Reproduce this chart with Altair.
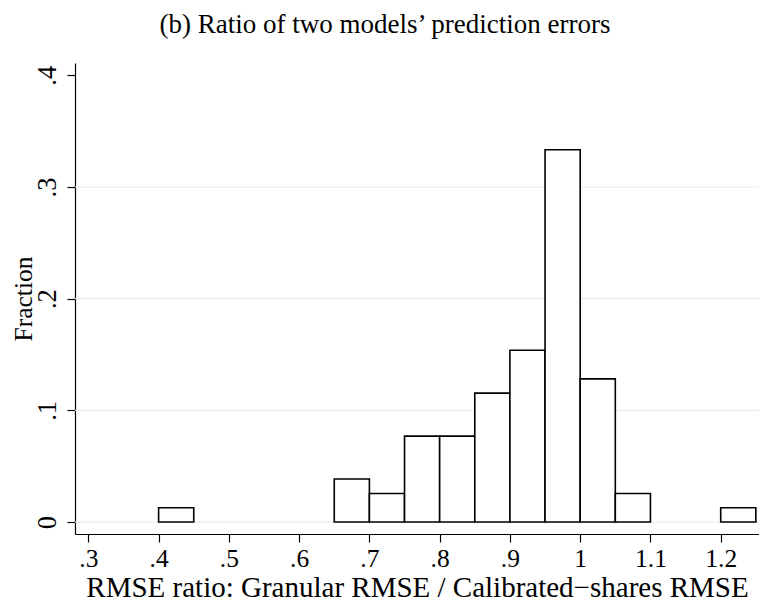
import altair as alt
import pandas as pd

# Histogram bins (lower / upper edges) and bar heights (fraction of observations)
bin_start = [0.40, 0.65, 0.70, 0.75, 0.80, 0.85, 0.90, 0.95, 1.00, 1.05, 1.20]
bin_end = [0.45, 0.70, 0.75, 0.80, 0.85, 0.90, 0.95, 1.00, 1.05, 1.10, 1.25]
fraction = [0.0128, 0.0385, 0.0256, 0.0769, 0.0769, 0.1154, 0.1538, 0.3333,
            0.1282, 0.0256, 0.0128]

x_ticks = [0.3, 0.4, 0.5, 0.6, 0.7, 0.8, 0.9, 1.0, 1.1, 1.2]
y_ticks = [0.0, 0.1, 0.2, 0.3, 0.4]
grid_values = [0.0, 0.1, 0.2, 0.3]

title_text = "(b) Ratio of two models\u2019 prediction errors"
x_title = "RMSE ratio: Granular RMSE / Calibrated\u2212shares RMSE"
y_title = "Fraction"

bars = pd.DataFrame({"lo": bin_start, "hi": bin_end, "frac": fraction})
grid = pd.DataFrame({"frac": grid_values})

FONT = "Liberation Serif"
PLOT_W = 684
PLOT_H = 471

x_scale = alt.Scale(domain=[0.281, 1.2545], nice=False, zero=False)
y_scale = alt.Scale(domain=[-0.0107, 0.411], nice=False, zero=False)

x_axis = alt.Axis(
    values=x_ticks,
    labelExpr="datum.value < 1 ? slice(format(datum.value, '.1f'), 1) : format(datum.value, '.1~f')",
    title=x_title,
    grid=False,
    tickSize=8, tickColor="black", tickWidth=1.2,
    domainColor="black", domainWidth=1.2,
    labelFont=FONT, labelFontSize=25.5, labelColor="black", labelPadding=4,
    labelFlush=False, labelOverlap=False,
    titleFont=FONT, titleFontSize=29, titleFontWeight="normal", titleColor="black",
    titlePadding=2,
)
y_axis = alt.Axis(
    values=y_ticks,
    labelExpr="datum.value == 0 ? '0' : slice(format(datum.value, '.1f'), 1)",
    title=y_title,
    grid=False,
    tickSize=8, tickColor="black", tickWidth=1.2,
    domainColor="black", domainWidth=1.2,
    labelFont=FONT, labelFontSize=26.5, labelColor="black",
    labelAngle=270, labelAlign="center", labelBaseline="alphabetic", labelPadding=12,
    labelFlush=False, labelOverlap=False,
    titleFont=FONT, titleFontSize=25.5, titleFontWeight="normal", titleColor="black",
    titleAngle=270, titleAlign="center", titleBaseline="alphabetic",
    titleX=-44, titleY=PLOT_H / 2,
)

grid_layer = alt.Chart(grid).mark_rule(color="#e4ecef", strokeWidth=1.2).encode(
    y=alt.Y("frac:Q", scale=y_scale, axis=y_axis),
)

bar_layer = alt.Chart(bars).mark_rect(
    fill="white", stroke="black", strokeWidth=1.6
).encode(
    x=alt.X("lo:Q", scale=x_scale, axis=x_axis),
    x2="hi:Q",
    y=alt.Y("frac:Q", scale=y_scale, axis=y_axis),
    y2=alt.datum(0),
)

chart = alt.layer(grid_layer, bar_layer).properties(
    width=PLOT_W,
    height=PLOT_H,
    autosize=alt.AutoSizeParams(type="none"),
    padding={"left": 67, "top": 55, "right": 0, "bottom": 72},
    background="white",
    title=alt.TitleParams(
        text=title_text, font=FONT, fontSize=27, fontWeight="normal",
        color="black", anchor="middle", frame="group", offset=24, dx=-32,
    ),
).configure_view(stroke=None)

chart.save("out.html", embed_options={"renderer": "svg", "actions": False})
